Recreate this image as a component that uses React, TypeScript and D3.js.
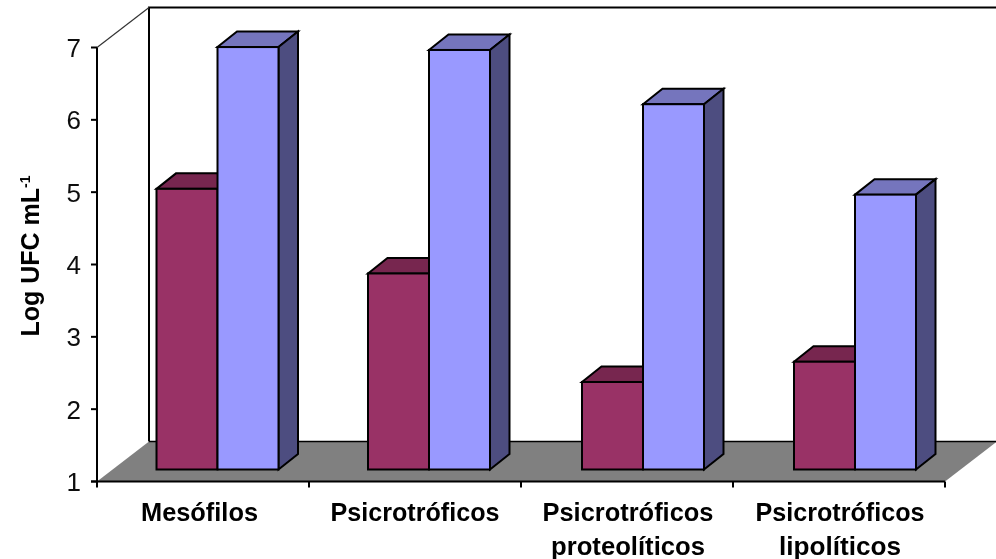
import React from "react";
import * as d3 from "d3";

const categories: string[][] = [["Mesófilos"], ["Psicrotróficos"], ["Psicrotróficos", "proteolíticos"], ["Psicrotróficos", "lipolíticos"]];
const seriesA = [4.88, 3.71, 2.21, 2.49];
const seriesB = [6.84, 6.8, 6.05, 4.8];
const yTicks = [1, 2, 3, 4, 5, 6, 7];
const labelWidths = [117, 169, 171, 169];
const subLabelWidths = [0, 0, 154, 122];
const labelNudge = [-3.5, 0, 1, 1];
const barNudge = [-0.5, -1, 1, 1];

const W = 996, H = 559;
const x0 = 97, x1 = 945, yBot = 481.5, yTop = 47.5;
const depth = { dx: 52, dy: -40 };
const barDepth = { dx: 19.5, dy: -15.5 };
const barLift = 12;

export default function App() {
  const y = d3.scaleLinear().domain([1, 7]).range([yBot, yTop]);
  const x = d3.scaleBand<number>().domain(d3.range(categories.length)).range([x0, x1]);
  const bw = 61;
  const inset = 60;
  const line = d3.line();

  const bar = (gx: number, v: number, front: string, top: string, side: string | null, key: string) => {
    const t = y(v) - barLift;
    const b = yBot - barLift;
    const d = barDepth;
    return (
      <g key={key} stroke="#000" strokeWidth={2} strokeLinejoin="miter">
        <path d={line([[gx, t], [gx + d.dx, t + d.dy], [gx + bw + d.dx, t + d.dy], [gx + bw, t]])! + "Z"} fill={top} />
        {side && <path d={line([[gx + bw, t], [gx + bw + d.dx, t + d.dy], [gx + bw + d.dx, b + d.dy], [gx + bw, b]])! + "Z"} fill={side} />}
        <rect x={gx} y={t} width={bw} height={b - t} fill={front} />
      </g>
    );
  };

  return (
    <svg width={W} height={H} viewBox={`0 0 ${W} ${H}`} style={{ position: "absolute", left: 0, top: 0, background: "#fff" }}>
      <defs>
        <filter id="soft" filterUnits="userSpaceOnUse" x="0" y="0" width={W} height={H}>
          <feGaussianBlur stdDeviation="0.6" />
        </filter>
      </defs>
      <g filter="url(#soft)">
        <path d={line([[x0 + depth.dx, yBot + depth.dy], [x0 + depth.dx, yTop + depth.dy], [W + 2, yTop + depth.dy]])!} fill="none" stroke="#000" strokeWidth={2} />
        <path d={line([[x0, yTop], [x0 + depth.dx, yTop + depth.dy]])!} fill="none" stroke="#333" strokeWidth={1.2} />
        <path
          d={line([[x0, yBot], [x0 + depth.dx, yBot + depth.dy], [x1 + depth.dx, yBot + depth.dy], [x1, yBot]])! + "Z"}
          fill="#808080"
        />
        <path d={line([[x0 + depth.dx, yBot + depth.dy], [x1 + depth.dx, yBot + depth.dy]])!} stroke="#000" strokeWidth={1.5} fill="none" />
        {categories.map((_, i) => {
          const gx = x(i)! + inset + barNudge[i];
          return (
            <g key={i}>
              {bar(gx, seriesA[i], "#993366", "#77274f", null, "a" + i)}
              {bar(gx + bw, seriesB[i], "#9999ff", "#7474bd", "#4d4d80", "b" + i)}
            </g>
          );
        })}
        <path d={line([[x0, yTop], [x0, yBot + 5]])!} stroke="#000" strokeWidth={2} fill="none" />
        <path d={line([[x0 - 6, yBot], [x1, yBot]])!} stroke="#000" strokeWidth={2} fill="none" />
        {yTicks.map((t) => (
          <g key={t}>
            <line x1={x0 - 6} x2={x0} y1={y(t)} y2={y(t)} stroke="#000" strokeWidth={2} />
            <text x={81} y={y(t) + 9.5} textAnchor="end" fontFamily="Liberation Sans" fontSize={26} fill="#111">{t}</text>
          </g>
        ))}
        {[...x.domain(), categories.length].map((i) => (
          <line key={i} x1={x0 + x.step() * i} x2={x0 + x.step() * i} y1={yBot} y2={yBot + 6} stroke="#000" strokeWidth={2} />
        ))}
        {categories.map((lines, i) => {
          const cx = x(i)! + x.bandwidth() / 2 + labelNudge[i];
          return lines.map((s, j) => (
            <text
              key={s}
              x={cx}
              y={521 + j * 34}
              textAnchor="middle"
              fontFamily="Liberation Sans"
              fontWeight="bold"
              fontSize={25}
              textLength={j === 0 ? labelWidths[i] : subLabelWidths[i]}
              lengthAdjust="spacingAndGlyphs"
              fill="#000"
            >
              {s}
            </text>
          ));
        })}
        <text
          transform="translate(39,256) rotate(-90)"
          textAnchor="middle"
          fontFamily="Liberation Sans"
          fontWeight="bold"
          fontSize={25}
          fill="#000"
        >
          Log UFC mL<tspan dy={-9} fontSize={14}>-1</tspan>
        </text>
      </g>
    </svg>
  );
}
